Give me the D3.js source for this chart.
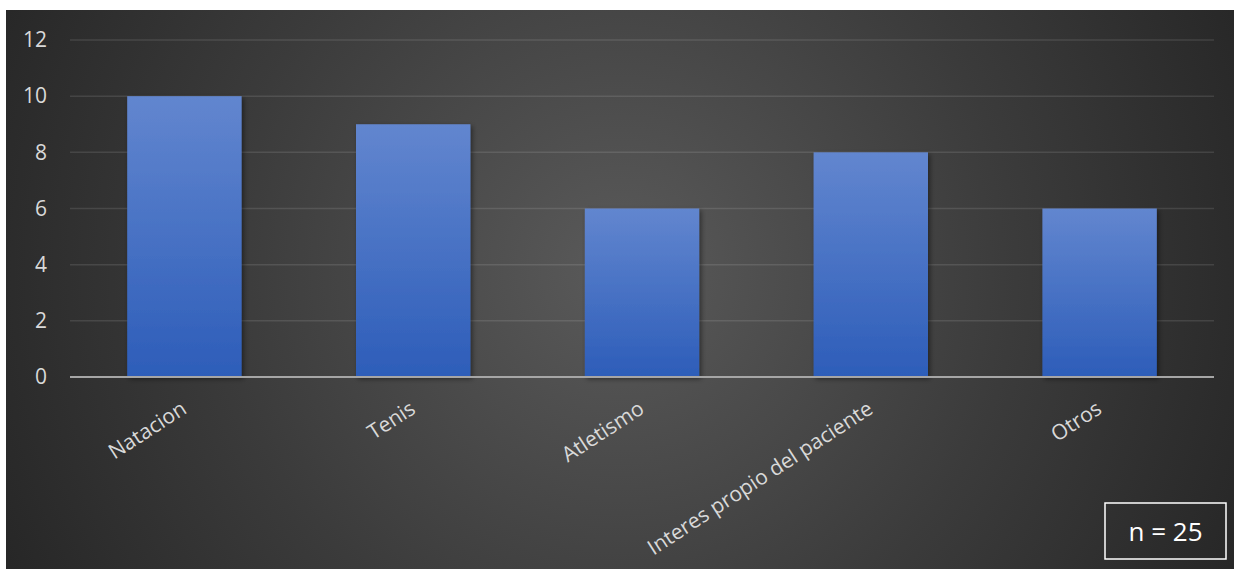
<!DOCTYPE html>
<html>
<head>
<meta charset="utf-8">
<script src="https://cdn.jsdelivr.net/npm/d3@7"></script>
<style>
  html, body { margin: 0; padding: 0; background: #ffffff; }
  svg { display: block; }
</style>
</head>
<body>
<svg id="chart" width="1234" height="570"></svg>
<script>
// Deportes recomendados (n = 25)
const categories = ["Natacion", "Tenis", "Atletismo", "Interes propio del paciente", "Otros"];
const values = [10, 9, 6, 8, 6];
const yTicks = [0, 2, 4, 6, 8, 10, 12];
const sampleNote = "n = 25";

const svg = d3.select("#chart");
const W = 1234, H = 570;
const frame = { x: 6, y: 10, w: W - 6, h: H - 11 };
const plot = { left: 70, right: 1214, top: 40, bottom: 377 };
const font = "'Open Sans', 'Noto Sans', sans-serif";

const defs = svg.append("defs");

const bg = defs.append("radialGradient")
  .attr("id", "bgGrad")
  .attr("gradientUnits", "userSpaceOnUse")
  .attr("cx", 620).attr("cy", 270).attr("r", 720);
bg.append("stop").attr("offset", "0%").attr("stop-color", "#5a5a5a");
bg.append("stop").attr("offset", "55%").attr("stop-color", "#3b3b3b");
bg.append("stop").attr("offset", "100%").attr("stop-color", "#242424");

const barGrad = defs.append("linearGradient")
  .attr("id", "barGrad")
  .attr("x1", 0).attr("y1", 0).attr("x2", 0).attr("y2", 1);
barGrad.append("stop").attr("offset", "0%").attr("stop-color", "#6286cf");
barGrad.append("stop").attr("offset", "100%").attr("stop-color", "#2d5db9");

const shadow = defs.append("filter")
  .attr("id", "barShadow")
  .attr("x", "-20%").attr("y", "-10%").attr("width", "150%").attr("height", "130%");
shadow.append("feDropShadow")
  .attr("dx", 2).attr("dy", 2).attr("stdDeviation", 2.5)
  .attr("flood-color", "#000").attr("flood-opacity", 0.45);

// chart area
svg.append("rect")
  .attr("x", frame.x).attr("y", frame.y)
  .attr("width", frame.w).attr("height", frame.h)
  .attr("fill", "url(#bgGrad)");

const x = d3.scaleBand()
  .domain(categories)
  .range([plot.left, plot.right])
  .paddingInner(0.5)
  .paddingOuter(0.25);

const y = d3.scaleLinear()
  .domain([0, 12])
  .range([plot.bottom, plot.top]);

// horizontal gridlines
svg.append("g")
  .selectAll("line")
  .data(yTicks.filter(t => t > 0))
  .join("line")
  .attr("x1", plot.left).attr("x2", plot.right)
  .attr("y1", d => y(d)).attr("y2", d => y(d))
  .attr("stroke", "rgba(255,255,255,0.11)")
  .attr("stroke-width", 1.5);

// y axis labels
const yAxis = svg.append("g")
  .attr("transform", `translate(${plot.left - 23},0)`)
  .call(d3.axisLeft(y).tickValues(yTicks).tickSize(0).tickPadding(0));
yAxis.select(".domain").remove();
yAxis.selectAll("text")
  .attr("fill", "#d9d9d9")
  .attr("font-family", font)
  .attr("font-size", 21);

// bars
svg.append("g")
  .selectAll("rect")
  .data(values)
  .join("rect")
  .attr("x", (d, i) => x(categories[i]))
  .attr("width", x.bandwidth())
  .attr("y", d => y(d))
  .attr("height", d => y(0) - y(d))
  .attr("fill", "url(#barGrad)")
  .attr("filter", "url(#barShadow)");

// baseline
svg.append("line")
  .attr("x1", plot.left).attr("x2", plot.right)
  .attr("y1", y(0)).attr("y2", y(0))
  .attr("stroke", "#a6a6a6")
  .attr("stroke-width", 2);

// rotated category labels
const xAxis = svg.append("g")
  .attr("transform", `translate(0,${y(0)})`)
  .call(d3.axisBottom(x).tickSize(0).tickPadding(0));
xAxis.select(".domain").remove();
xAxis.selectAll("text")
  .attr("fill", "#d9d9d9")
  .attr("font-family", font)
  .attr("font-size", 21)
  .attr("text-anchor", "end")
  .attr("dy", "0.75em")
  .attr("transform", "translate(-5,22) rotate(-33)");

// sample size note
const note = svg.append("g").attr("transform", "translate(1105,503)");
note.append("rect")
  .attr("width", 121).attr("height", 56)
  .attr("fill", "none")
  .attr("stroke", "#ffffff")
  .attr("stroke-width", 1.5);
note.append("text")
  .attr("x", 60.5).attr("y", 38)
  .attr("text-anchor", "middle")
  .attr("fill", "#ffffff")
  .attr("font-family", font)
  .attr("font-size", 26)
  .text(sampleNote);
</script>
</body>
</html>
